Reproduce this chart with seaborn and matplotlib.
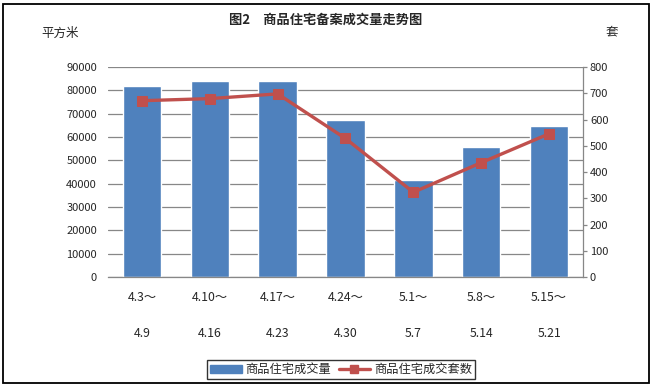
import numpy as np
import pandas as pd
import matplotlib
matplotlib.use('Agg')
import matplotlib.pyplot as plt
from matplotlib.patches import Rectangle
from matplotlib.lines import Line2D
import seaborn as sns

# Datos
periodos = ['4.3～\n4.9', '4.10～\n4.16', '4.17～\n4.23', '4.24～\n4.30',
            '5.1～\n5.7', '5.8～\n5.14', '5.15～\n5.21']
area_vendida = [82000, 84200, 84200, 67300, 41600, 55700, 64700]   # 平方米
unidades = [672, 680, 698, 528, 323, 436, 546]                     # 套

titulo = '图2　商品住宅备案成交量走势图'
serie_barras = '商品住宅成交量'
serie_linea = '商品住宅成交套数'

sns.set_theme(style='white')
plt.rcParams['font.family'] = ['Noto Sans CJK SC', 'DejaVu Sans']

color_barra = '#4F81BD'
color_linea = '#C0504D'
color_grid = '#878787'

df = pd.DataFrame({'periodo': periodos, 'area': area_vendida, 'unidades': unidades})
df['pos'] = np.arange(len(df))

fig = plt.figure(figsize=(6.52, 3.88), dpi=100)
ax = fig.add_axes([0.1656, 0.286, 0.7286, 0.541])

sns.barplot(data=df, x='periodo', y='area', color=color_barra, width=0.566,
            saturation=1, ax=ax, zorder=2)
ax.set_ylim(0, 90000)
ax.set_yticks(np.arange(0, 90001, 10000))
ax.yaxis.grid(True, color=color_grid, linewidth=0.9)
ax.set_axisbelow(True)
ax.set_xlabel('')
ax.set_ylabel('')
for s in ['top', 'left', 'right']:
    ax.spines[s].set_visible(False)
ax.spines['bottom'].set_color(color_grid)
ax.spines['bottom'].set_linewidth(0.9)
ax.tick_params(axis='y', length=0, pad=8, labelsize=8)
ax.tick_params(axis='x', length=0, pad=10, labelsize=8.8)
ax.set_xticks(df['pos'])
ax.set_xticklabels(periodos, linespacing=3.3)
ax.set_xlim(-0.5, len(df) - 0.5)

ax2 = ax.twinx()
sns.lineplot(data=df, x='pos', y='unidades', color=color_linea, linewidth=2.4,
             marker='s', markersize=7, markeredgecolor=color_linea, ax=ax2, zorder=3)
ax2.set_ylim(0, 800)
ax2.set_yticks(np.arange(0, 801, 100))
ax2.set_xlim(-0.5, len(df) - 0.5)
ax2.set_ylabel('')
ax2.set_xlabel('')
for s in ['top', 'left', 'bottom']:
    ax2.spines[s].set_visible(False)
ax2.spines['right'].set_color(color_grid)
ax2.spines['right'].set_linewidth(0.9)
ax2.tick_params(axis='y', right=True, length=3, width=0.9, color=color_grid,
                pad=2, labelsize=8)

fig.text(0.5, 0.948, titulo, ha='center', va='center', fontsize=9.5, fontweight='bold')
fig.text(0.092, 0.915, '平方米', ha='center', va='center', fontsize=9)
fig.text(0.938, 0.917, '套', ha='center', va='center', fontsize=9)

handles = [Rectangle((0, 0), 1, 1, color=color_barra),
           Line2D([], [], color=color_linea, linewidth=2.4, marker='s', markersize=6)]
leg = fig.legend(handles, [serie_barras, serie_linea], loc='center',
                 bbox_to_anchor=(0.523, 0.047), ncol=2, fontsize=8.8, frameon=True,
                 fancybox=False, edgecolor='black', handlelength=2.6,
                 handletextpad=0.3, columnspacing=0.6, borderpad=0.25)
leg.get_frame().set_linewidth(1.0)

fig.patches.append(Rectangle((0.005, 0.012), 0.99, 0.978, transform=fig.transFigure,
                             fill=False, edgecolor='black', linewidth=1.3))

fig.savefig('out.png', dpi=100)
